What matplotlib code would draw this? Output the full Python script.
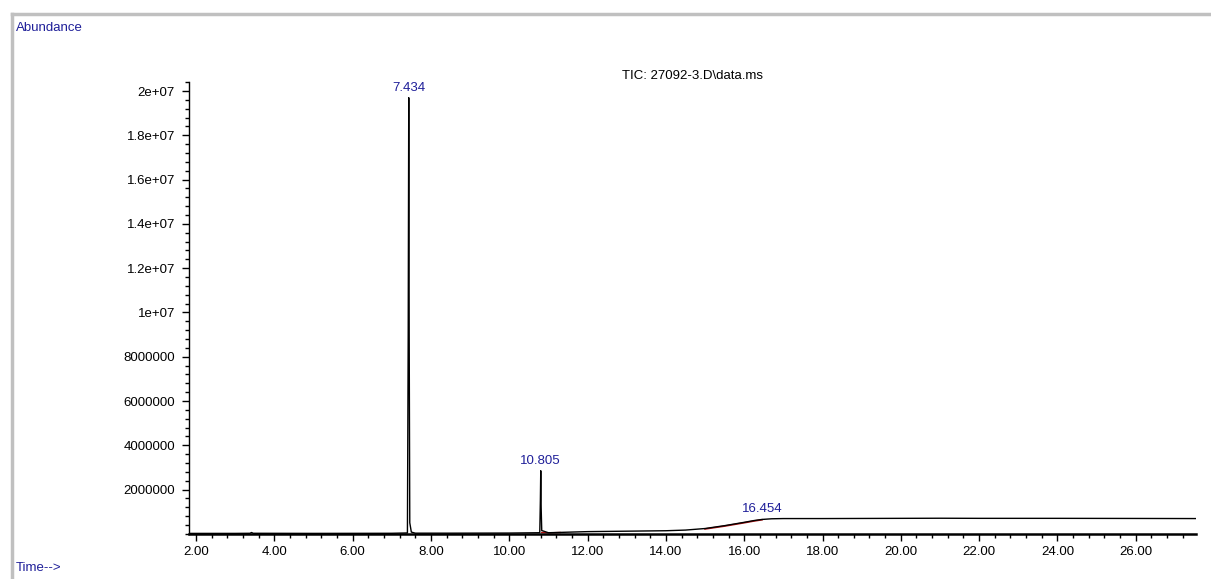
import matplotlib.pyplot as plt
from matplotlib.lines import Line2D
from matplotlib.ticker import MultipleLocator, FixedLocator

plt.rcParams['font.family'] = ['Liberation Sans', 'DejaVu Sans']

# chromatogram (time in min, abundance in counts)
time = [1.82, 3.00, 3.38, 3.42, 3.46, 5.00, 7.00, 7.40, 7.42, 7.434, 7.445, 7.46, 7.50,
        7.60, 8.50, 10.00, 10.78, 10.795, 10.805, 10.815, 10.83, 11.00, 12.00, 13.00,
        14.00, 14.50, 15.00, 15.50, 16.00, 16.25, 16.454, 16.70, 17.00, 18.00, 20.00,
        21.00, 22.00, 24.00, 26.00, 27.55]
abundance = [20000, 20000, 25000, 60000, 25000, 20000, 25000, 40000, 9000000, 19700000,
             9000000, 500000, 80000, 30000, 30000, 35000, 50000, 1500000, 2850000,
             1200000, 150000, 50000, 100000, 120000, 140000, 170000, 240000, 370000,
             520000, 600000, 650000, 680000, 690000, 690000, 700000, 705000, 700000,
             700000, 695000, 690000]

# integrated region drawn in red
red_time = [10.83, 11.00, 11.30, 15.00, 15.50, 16.00, 16.25, 16.454]
red_abund = [60000, 45000, 60000, 220000, 350000, 500000, 580000, 635000]

peak_labels = ['7.434', '10.805', '16.454']
peak_time = [7.434, 10.805, 16.454]
peak_abund = [19700000, 2850000, 660000]

y_ticks = [2000000, 4000000, 6000000, 8000000, 10000000, 12000000, 14000000, 16000000,
           18000000, 20000000]
y_tick_labels = ['2000000', '4000000', '6000000', '8000000', '1e+07', '1.2e+07',
                 '1.4e+07', '1.6e+07', '1.8e+07', '2e+07']
x_ticks = [2, 4, 6, 8, 10, 12, 14, 16, 18, 20, 22, 24, 26]

blue = '#1f1f99'

fig = plt.figure(figsize=(12.11, 5.79), dpi=100)
ax = fig.add_axes([0.156, 0.078, 0.832, 0.780])

ax.plot(red_time[3:], red_abund[3:], color='#b01010', lw=1.2)
ax.plot(red_time[:3], red_abund[:3], color='#b01010', lw=1.0)
ax.plot(time, abundance, color='black', lw=1.0)

for lab, t, a in zip(peak_labels, peak_time, peak_abund):
    ax.annotate(lab, (t, a), xytext=(0, 3), textcoords='offset points',
                ha='center', va='bottom', color=blue, fontsize=9.5)

ax.set_xlim(1.82, 27.55)
ax.set_ylim(0, 20400000)

ax.xaxis.set_major_locator(FixedLocator(x_ticks))
ax.set_xticklabels(['%.2f' % v for v in x_ticks])
ax.xaxis.set_minor_locator(MultipleLocator(0.4))
ax.yaxis.set_major_locator(FixedLocator(y_ticks))
ax.set_yticklabels(y_tick_labels)
ax.yaxis.set_minor_locator(MultipleLocator(400000))

ax.tick_params(axis='both', which='major', length=5, width=1, labelsize=9.5, direction='out')
ax.tick_params(axis='both', which='minor', length=3, width=1, direction='out')
ax.tick_params(axis='y', pad=5)

for s in ['top', 'right']:
    ax.spines[s].set_visible(False)
ax.spines['left'].set_linewidth(1.0)
ax.spines['bottom'].set_linewidth(1.8)

ax.text(0.5, 1.0, 'TIC: 27092-3.D\\data.ms', transform=ax.transAxes,
        ha='center', va='bottom', fontsize=9.5, color='black')

# window frame and axis captions
fig.add_artist(Line2D([0.010, 1.0], [0.976, 0.976], color='#c0c0c0', lw=2.5))
fig.add_artist(Line2D([0.010, 0.010], [0.0, 0.976], color='#c0c0c0', lw=2.5))
fig.text(0.013, 0.962, 'Abundance', color=blue, fontsize=9.5, va='top')
fig.text(0.013, 0.008, 'Time-->', color=blue, fontsize=9.5, va='bottom')

fig.savefig('out.png', dpi=100)
